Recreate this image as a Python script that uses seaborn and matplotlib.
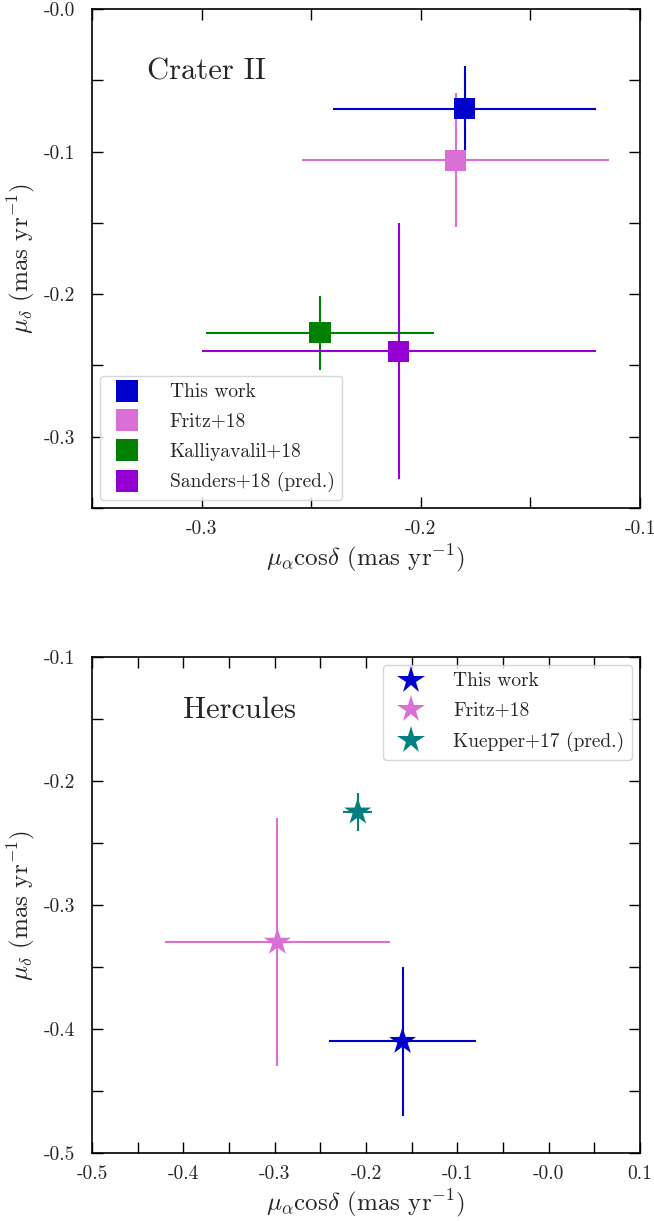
import matplotlib
matplotlib.use("Agg")
import matplotlib.pyplot as plt
import seaborn as sns
import pandas as pd

# ---- data: Crater II ----
cr_names = ["This work", "Fritz+18", "Kalliyavalil+18", "Sanders+18 (pred.)"]
cr_pmra = [-0.180, -0.184, -0.246, -0.210]
cr_pmdec = [-0.070, -0.106, -0.227, -0.240]
cr_pmra_err = [0.060, 0.070, 0.052, 0.090]
cr_pmdec_err = [0.030, 0.047, 0.026, 0.090]
cr_colors = ["#0000CD", "#DA70D6", "#008000", "#9400D3"]

# ---- data: Hercules ----
he_names = ["This work", "Fritz+18", "Kuepper+17 (pred.)"]
he_pmra = [-0.160, -0.297, -0.209]
he_pmdec = [-0.410, -0.330, -0.225]
he_pmra_err = [0.080, 0.123, 0.016]
he_pmdec_err = [0.060, 0.100, 0.015]
he_colors = ["#0000CD", "#DA70D6", "#008080"]

# ---- ticks ----
cr_xticks = [-0.35, -0.30, -0.25, -0.20, -0.15, -0.10]
cr_xticklabels = ["", "-0.3", "", "-0.2", "", "-0.1"]
cr_yticks = [-0.35, -0.30, -0.25, -0.20, -0.15, -0.10, -0.05, 0.0]
cr_yticklabels = ["", "-0.3", "", "-0.2", "", "-0.1", "", "-0.0"]
he_xticks = [-0.5, -0.45, -0.4, -0.35, -0.3, -0.25, -0.2, -0.15, -0.1, -0.05, 0.0, 0.05, 0.1]
he_xticklabels = ["-0.5", "", "-0.4", "", "-0.3", "", "-0.2", "", "-0.1", "", "-0.0", "", "0.1"]
he_yticks = [-0.5, -0.45, -0.4, -0.35, -0.3, -0.25, -0.2, -0.15, -0.1]
he_yticklabels = ["-0.5", "", "-0.4", "", "-0.3", "", "-0.2", "", "-0.1"]

sns.set_style("ticks")
plt.rcParams["font.family"] = ["cmr10", "DejaVu Serif"]
plt.rcParams["mathtext.fontset"] = "cm"
plt.rcParams["axes.unicode_minus"] = False
plt.rcParams["axes.formatter.use_mathtext"] = True

fig = plt.figure(figsize=(6.54, 12.22), dpi=100)
ax1 = fig.add_axes([0.1407, 0.5843, 0.8379, 0.4083])
ax2 = fig.add_axes([0.1407, 0.0565, 0.8379, 0.4059])

xlabel = r"$\mu_\alpha$cos$\delta$ (mas yr$^{-1}$)"
ylabel = r"$\mu_\delta$ (mas yr$^{-1}$)"


def panel(ax, names, x, y, xe, ye, colors, marker, msize, title, tpos,
          xt, xtl, yt, ytl, xlim, ylim, legloc):
    df = pd.DataFrame({"name": names, "x": x, "y": y})
    for i in range(len(names)):
        ax.errorbar(x[i], y[i], xerr=xe[i], yerr=ye[i], fmt="none",
                    ecolor=colors[i], elinewidth=1.5, capsize=0, zorder=2)
    sns.scatterplot(data=df, x="x", y="y", hue="name", palette=colors,
                    hue_order=names, marker=marker, s=msize, edgecolor="none",
                    linewidth=0, ax=ax, zorder=3, legend=True)
    ax.set_xlim(*xlim)
    ax.set_ylim(*ylim)
    ax.set_xticks(xt)
    ax.set_xticklabels(xtl)
    ax.set_yticks(yt)
    ax.set_yticklabels(ytl)
    ax.tick_params(direction="in", length=8, width=1.0, top=True, right=True,
                   labelsize=14, color="black")
    ax.tick_params(axis="x", pad=9)
    ax.tick_params(axis="y", pad=12)
    for s in ax.spines.values():
        s.set_linewidth(1.2)
        s.set_color("black")
    ax.set_xlabel(xlabel, fontsize=18, labelpad=3)
    ax.set_ylabel(ylabel, fontsize=18, labelpad=5)
    ax.text(tpos[0], tpos[1], title, transform=ax.transAxes, fontsize=22,
            ha="left", va="center")
    handles, labels = ax.get_legend_handles_labels()
    leg = ax.legend(handles, labels, loc=legloc, fontsize=14, frameon=True,
                    fancybox=True, handletextpad=1.2, borderpad=0.4,
                    labelspacing=0.6, markerscale=1.0, title=None,
                    borderaxespad=0.4)
    leg.get_frame().set_edgecolor("#cccccc")


panel(ax1, cr_names, cr_pmra, cr_pmdec, cr_pmra_err, cr_pmdec_err, cr_colors,
      "s", 230, "Crater II", (0.10, 0.874), cr_xticks, cr_xticklabels,
      cr_yticks, cr_yticklabels, (-0.35, -0.10), (-0.35, 0.0), "lower left")
panel(ax2, he_names, he_pmra, he_pmdec, he_pmra_err, he_pmdec_err, he_colors,
      "*", 420, "Hercules", (0.166, 0.893), he_xticks, he_xticklabels,
      he_yticks, he_yticklabels, (-0.5, 0.1), (-0.5, -0.1), "upper right")

fig.savefig("out.png", dpi=100)
